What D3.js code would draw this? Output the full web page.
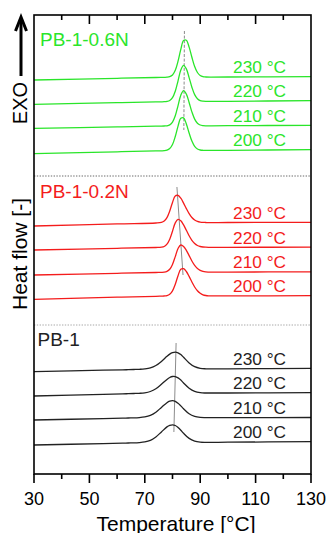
<!DOCTYPE html>
<html>
<head>
<meta charset="utf-8">
<script src="https://cdn.jsdelivr.net/npm/d3@7"></script>
<style>
  html, body { margin: 0; padding: 0; background: #fff; }
  svg { display: block; font-family: "Liberation Sans", Arial, sans-serif; }
</style>
</head>
<body>
<svg id="chart" width="328" height="533"></svg>
<script>
// DSC cooling scans: heat flow (arbitrary units, curves shifted vertically) vs temperature
const xTicks = [30, 50, 70, 90, 110, 130];
const xMinorTicks = [40, 60, 80, 100, 120];
const seriesLabels = ["230 °C", "220 °C", "210 °C", "200 °C"];
const sampleNames = ["PB-1-0.6N", "PB-1-0.2N", "PB-1"];

// PB-1-0.6N
const tempGreen = [30, 60, 74, 76, 77, 78, 79, 80, 81, 82, 83, 84, 85, 86, 87, 88, 89, 90, 91, 92, 94, 100, 130];
const green230 = [39.40, 39.57, 39.65, 39.66, 39.67, 39.68, 39.73, 39.90, 40.37, 41.28, 42.46, 43.35, 43.38, 42.69, 41.67, 40.75, 40.15, 39.85, 39.73, 39.70, 39.69, 39.70, 39.73];
const green220 = [36.97, 37.13, 37.21, 37.22, 37.23, 37.26, 37.35, 37.63, 38.28, 39.32, 40.39, 40.86, 40.51, 39.64, 38.68, 37.94, 37.53, 37.34, 37.28, 37.26, 37.26, 37.27, 37.33];
const green210 = [34.57, 34.71, 34.78, 34.79, 34.80, 34.82, 34.91, 35.19, 35.82, 36.84, 37.88, 38.34, 37.99, 37.15, 36.21, 35.49, 35.08, 34.90, 34.84, 34.82, 34.82, 34.83, 34.87];
const green200 = [32.03, 32.22, 32.31, 32.32, 32.33, 32.38, 32.54, 32.95, 33.75, 34.79, 35.58, 35.61, 35.00, 34.10, 33.29, 32.76, 32.50, 32.40, 32.37, 32.36, 32.36, 32.37, 32.43];

// PB-1-0.2N
const tempRed = [30, 60, 74, 76, 77, 78, 79, 80, 81, 82, 83, 84, 85, 86, 87, 88, 89, 90, 91, 92, 93, 94, 96, 100, 130];
const red230 = [24.80, 25.01, 25.10, 25.16, 25.29, 25.64, 26.30, 27.16, 27.81, 27.86, 27.58, 27.09, 26.54, 26.04, 25.65, 25.40, 25.26, 25.19, 25.16, 25.15, 25.14, 25.14, 25.14, 25.15, 25.17];
const red220 = [22.40, 22.57, 22.65, 22.68, 22.75, 22.98, 23.48, 24.28, 25.11, 25.47, 25.32, 24.91, 24.37, 23.82, 23.37, 23.05, 22.85, 22.75, 22.70, 22.68, 22.67, 22.67, 22.67, 22.67, 22.68];
const red210 = [19.90, 20.07, 20.15, 20.16, 20.18, 20.26, 20.47, 20.96, 21.74, 22.55, 22.90, 22.75, 22.37, 21.84, 21.30, 20.86, 20.55, 20.36, 20.26, 20.21, 20.19, 20.18, 20.19, 20.19, 20.22];
const red200 = [17.47, 17.68, 17.77, 17.79, 17.80, 17.84, 17.97, 18.31, 18.97, 19.83, 20.48, 20.53, 20.25, 19.76, 19.20, 18.70, 18.32, 18.07, 17.92, 17.85, 17.82, 17.82, 17.81, 17.81, 17.83];

// PB-1
const tempBlack = [30, 55, 62, 64, 66, 68, 70, 72, 74, 76, 78, 79, 80, 81, 82, 83, 84, 86, 88, 90, 92, 94, 96, 100, 130];
const black230 = [10.23, 10.38, 10.42, 10.43, 10.45, 10.47, 10.51, 10.61, 10.85, 11.26, 11.77, 11.99, 12.13, 12.19, 12.12, 11.94, 11.67, 11.11, 10.73, 10.57, 10.52, 10.51, 10.51, 10.52, 10.57];
const black220 = [7.80, 7.97, 8.02, 8.03, 8.05, 8.07, 8.12, 8.25, 8.52, 8.97, 9.46, 9.65, 9.75, 9.74, 9.61, 9.39, 9.10, 8.58, 8.26, 8.13, 8.10, 8.10, 8.10, 8.10, 8.13];
const black210 = [5.40, 5.54, 5.58, 5.60, 5.61, 5.64, 5.71, 5.86, 6.18, 6.66, 7.13, 7.28, 7.33, 7.26, 7.07, 6.81, 6.52, 6.02, 5.76, 5.66, 5.64, 5.63, 5.64, 5.64, 5.65];
const black200 = [2.90, 3.04, 3.08, 3.10, 3.11, 3.14, 3.21, 3.37, 3.71, 4.21, 4.71, 4.86, 4.92, 4.85, 4.65, 4.38, 4.07, 3.56, 3.29, 3.19, 3.17, 3.17, 3.17, 3.18, 3.23];

// Peak-temperature trend lines (start/end) for each sample
const guideGreenT = [84.3, 84.1], guideGreenV = [44.3, 34.4];
const guideRedT = [81.6, 83.8], guideRedV = [28.7, 19.9];
const guideBlackT = [81.3, 80.5], guideBlackV = [13.1, 4.2];

// Vertical positions of the dotted separators between samples
const separatorV = [29.8, 14.9];

const samples = [
  { name: sampleNames[0], color: "#2ae52a", temps: tempGreen, curves: [green230, green220, green210, green200],
    guide: { t: guideGreenT, v: guideGreenV, dash: "3,1.6" } },
  { name: sampleNames[1], color: "#f41c1c", temps: tempRed, curves: [red230, red220, red210, red200],
    guide: { t: guideRedT, v: guideRedV, dash: null } },
  { name: sampleNames[2], color: "#222222", temps: tempBlack, curves: [black230, black220, black210, black200],
    guide: { t: guideBlackT, v: guideBlackV, dash: null } }
];

const W = 328, H = 533;
const plotL = 34, plotR = 311, plotT = 15, plotB = 474;

const x = d3.scaleLinear().domain([30, 130]).range([plotL, plotR]);
const y = d3.scaleLinear().domain([0, 46]).range([plotB, plotB - 460]);

const svg = d3.select("#chart");
svg.append("rect").attr("width", W).attr("height", H).attr("fill", "#fff");

// separators
svg.selectAll("line.sep").data(separatorV).join("line")
  .attr("class", "sep")
  .attr("x1", plotL).attr("x2", plotR)
  .attr("y1", d => y(d)).attr("y2", d => y(d))
  .attr("stroke", (d, i) => i === 0 ? "#6a6a6a" : "#a8a8a8")
  .attr("stroke-width", 1)
  .attr("stroke-dasharray", "1.4,1.4");

const line = d3.line().curve(d3.curveCatmullRom.alpha(0.5));

samples.forEach((s) => {
  const g = svg.append("g");
  // trend line through the peak maxima
  g.append("line")
    .attr("x1", x(s.guide.t[0])).attr("y1", y(s.guide.v[0]))
    .attr("x2", x(s.guide.t[1])).attr("y2", y(s.guide.v[1]))
    .attr("stroke", "#8c8c8c").attr("stroke-width", 1)
    .attr("stroke-dasharray", s.guide.dash);

  s.curves.forEach((vals, ci) => {
    const pts = s.temps.map((t, k) => [x(t), y(vals[k])]);
    g.append("path")
      .attr("d", line(pts))
      .attr("fill", "none")
      .attr("stroke", s.color)
      .attr("stroke-width", 1.3);

    g.append("text")
      .attr("x", x(121))
      .attr("y", y(vals[vals.length - 1]) - 3.5)
      .attr("text-anchor", "end")
      .attr("font-size", 17.3)
      .attr("fill", s.color)
      .text(seriesLabels[ci]);
  });
});

// sample names
const nameY = [plotT + 31, y(separatorV[0]) + 22.3, y(separatorV[1]) + 21];
samples.forEach((s, i) => {
  svg.append("text")
    .attr("x", i === 2 ? 37.5 : 40)
    .attr("y", nameY[i])
    .attr("font-size", 19)
    .attr("fill", s.color)
    .text(s.name);
});

// frame
svg.append("rect")
  .attr("x", plotL).attr("y", plotT)
  .attr("width", plotR - plotL).attr("height", plotB - plotT)
  .attr("fill", "none").attr("stroke", "#000").attr("stroke-width", 1.6);

// bottom axis: ticks outward
const bottomAxis = svg.append("g");
bottomAxis.selectAll("line.maj").data(xTicks).join("line")
  .attr("x1", d => x(d)).attr("x2", d => x(d))
  .attr("y1", plotB).attr("y2", plotB + 9)
  .attr("stroke", "#000").attr("stroke-width", 1.6);
bottomAxis.selectAll("line.min").data(xMinorTicks).join("line")
  .attr("x1", d => x(d)).attr("x2", d => x(d))
  .attr("y1", plotB).attr("y2", plotB + 5)
  .attr("stroke", "#000").attr("stroke-width", 1.6);
bottomAxis.selectAll("text").data(xTicks).join("text")
  .attr("x", d => x(d)).attr("y", 505)
  .attr("text-anchor", "middle")
  .attr("font-size", 18)
  .attr("fill", "#000")
  .text(d => d);

// top axis: ticks inward
const topAxis = svg.append("g");
topAxis.selectAll("line.maj").data(xTicks.slice(1, -1)).join("line")
  .attr("x1", d => x(d)).attr("x2", d => x(d))
  .attr("y1", plotT).attr("y2", plotT + 9)
  .attr("stroke", "#000").attr("stroke-width", 1.6);
topAxis.selectAll("line.min").data(xMinorTicks).join("line")
  .attr("x1", d => x(d)).attr("x2", d => x(d))
  .attr("y1", plotT).attr("y2", plotT + 5)
  .attr("stroke", "#000").attr("stroke-width", 1.6);

// axis titles
svg.append("text")
  .attr("x", 176).attr("y", 530.5)
  .attr("text-anchor", "middle")
  .attr("font-size", 21)
  .attr("fill", "#000")
  .text("Temperature [°C]");

svg.append("text")
  .attr("transform", "translate(27,254) rotate(-90)")
  .attr("text-anchor", "middle")
  .attr("font-size", 21)
  .attr("fill", "#000")
  .text("Heat flow [-]");

svg.append("text")
  .attr("transform", "translate(27,103) rotate(-90)")
  .attr("text-anchor", "middle")
  .attr("font-size", 20)
  .attr("fill", "#000")
  .text("EXO");

// exotherm direction arrow
svg.append("line")
  .attr("x1", 21).attr("y1", 76).attr("x2", 21).attr("y2", 18)
  .attr("stroke", "#000").attr("stroke-width", 3);
svg.append("path")
  .attr("d", "M15.5,31 L21,17 L26.5,31")
  .attr("fill", "none").attr("stroke", "#000").attr("stroke-width", 3)
  .attr("stroke-linejoin", "miter");
</script>
</body>
</html>
